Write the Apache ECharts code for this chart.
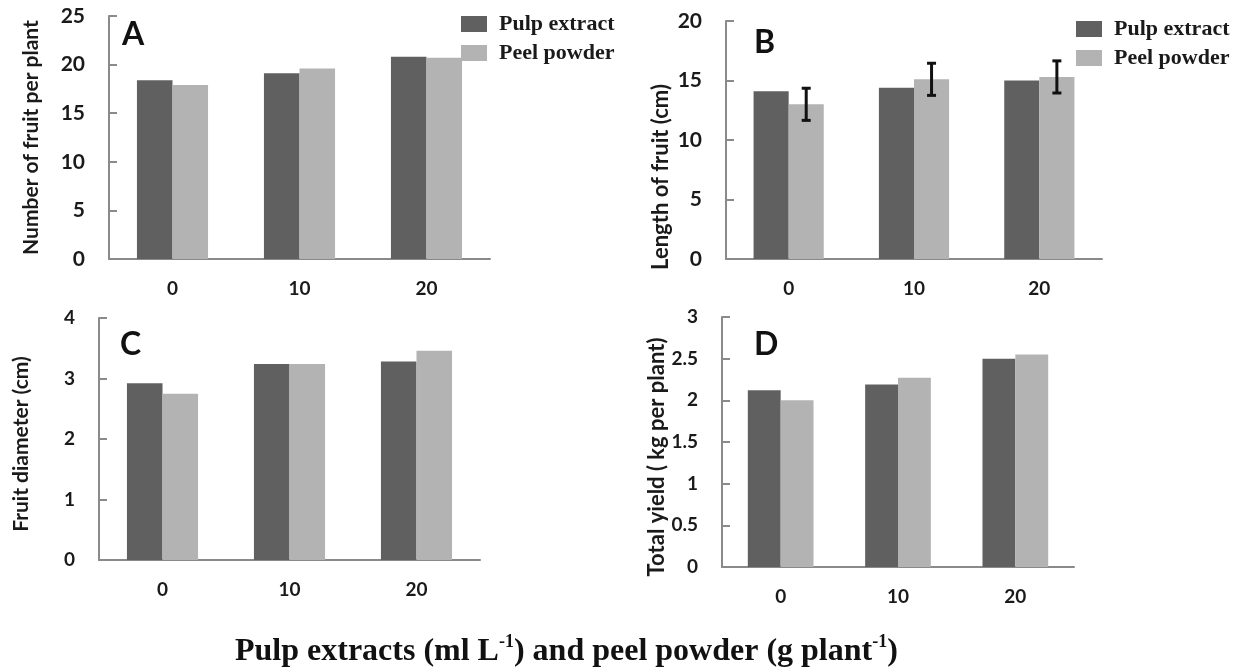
<!DOCTYPE html>
<html>
<head>
<meta charset="utf-8">
<script src="https://cdn.jsdelivr.net/npm/echarts@6/dist/echarts.min.js"></script>
<style>html,body{margin:0;padding:0;background:#fff}#c{width:1238px;height:669px}</style>
</head>
<body>
<div id="c"></div>
<script>
// ---- data ----
const categories = ['0', '10', '20'];
const seriesNames = ['Pulp extract', 'Peel powder'];
const pulpA = [18.4, 19.1, 20.8];
const peelA = [17.9, 19.6, 20.7];
const pulpB = [14.1, 14.4, 15.0];
const peelB = [13.0, 15.1, 15.3];
const errB  = [1.35, 1.35, 1.35];
const pulpC = [2.92, 3.24, 3.28];
const peelC = [2.75, 3.24, 3.46];
const pulpD = [2.12, 2.19, 2.50];
const peelD = [2.00, 2.27, 2.55];
const yNames = ['Number of fruit per plant', 'Length of fruit (cm)', 'Fruit diameter (cm)', 'Total yield ( kg per plant)'];
const yMax = [25, 20, 4, 3];
const yInterval = [5, 5, 1, 0.5];
const panelLetters = ['A', 'B', 'C', 'D'];

// ---- style ----
const DARK = '#606060', LIGHT = '#b3b3b3', AXIS = '#8a8a8a', TXT = '#1a1a1a';
const GAP = '44%';

const grids = [
  {left: 109, top: 16, width: 381, height: 243},
  {left: 726, top: 21, width: 376, height: 238},
  {left: 99, top: 318, width: 381, height: 242},
  {left: 722, top: 317, width: 352, height: 250}
];
const nameGaps = [67, 54, 67, 54];
const nameSizes = [21, 22, 21, 22];
const namePads = [[0, 0, 0, 0], [0, 74, 0, 0], [0, 10, 0, 0], [0, 30, 0, 0]];
const yLabelSize = [21, 21, 19, 19];
const letterPos = [[122, 35], [754, 43], [120, 345], [754, 345]];

const xAxes = grids.map((g, i) => ({
  type: 'category', gridIndex: i, data: categories,
  axisLine: {show: true, lineStyle: {color: AXIS, width: 2}},
  axisTick: {show: false},
  axisLabel: {fontFamily: 'Lato', fontWeight: 'bold', fontSize: 19, color: TXT, margin: 20}
}));
const yAxes = grids.map((g, i) => ({
  type: 'value', gridIndex: i, min: 0, max: yMax[i], interval: yInterval[i],
  name: yNames[i], nameLocation: 'middle', nameGap: nameGaps[i],
  nameTextStyle: {fontFamily: 'Lato', fontWeight: 'bold', fontSize: nameSizes[i], color: TXT, padding: namePads[i]},
  axisLine: {show: true, lineStyle: {color: AXIS, width: 2}},
  axisTick: {show: true, inside: true, length: 8, lineStyle: {color: AXIS, width: 2}},
  splitLine: {show: false},
  axisLabel: {fontFamily: 'Lato', fontWeight: 'bold', fontSize: yLabelSize[i], color: TXT, margin: 24}
}));

const pulpData = [pulpA, pulpB, pulpC, pulpD];
const peelData = [peelA, peelB, peelC, peelD];
const series = [];
for (let i = 0; i < 4; i++) {
  series.push({
    type: 'bar', name: seriesNames[0], xAxisIndex: i, yAxisIndex: i, data: pulpData[i],
    barGap: '0%', barCategoryGap: GAP, itemStyle: {color: DARK}, emphasis: {disabled: true}
  });
  series.push({
    type: 'bar', name: seriesNames[1], xAxisIndex: i, yAxisIndex: i, data: peelData[i],
    barGap: '0%', barCategoryGap: GAP, itemStyle: {color: LIGHT}, emphasis: {disabled: true}
  });
}
// error bars on peel powder in panel B
series.push({
  type: 'custom', name: 'errB', xAxisIndex: 1, yAxisIndex: 1, silent: true, z: 10,
  data: peelB.map((v, k) => [k, v - errB[k], v + errB[k]]),
  renderItem: function (params, api) {
    const c = api.coord([api.value(0), 0]);
    const band = api.size([1, 0])[0];
    const barW = band * (1 - 0.44) / 2;
    const x = c[0] + barW / 2;
    const yLo = api.coord([api.value(0), api.value(1)])[1];
    const yHi = api.coord([api.value(0), api.value(2)])[1];
    const h = 4.5;
    const st = {stroke: '#111', lineWidth: 3};
    return {type: 'group', children: [
      {type: 'line', shape: {x1: x, y1: yLo, x2: x, y2: yHi}, style: st},
      {type: 'line', shape: {x1: x - h, y1: yHi, x2: x + h, y2: yHi}, style: st},
      {type: 'line', shape: {x1: x - h, y1: yLo, x2: x + h, y2: yLo}, style: st}
    ]};
  }
});

const legendBase = {
  orient: 'vertical', data: seriesNames, icon: 'rect', itemWidth: 26, itemHeight: 16, itemGap: 7,
  padding: 0, selectedMode: false,
  textStyle: {fontFamily: 'Liberation Serif', fontWeight: 'bold', fontSize: 22, color: TXT, padding: [0, 0, 0, 7]}
};

const graphics = panelLetters.map((t, i) => ({
  type: 'text', x: letterPos[i][0], y: letterPos[i][1],
  style: {text: t, fontFamily: 'Lato', fontWeight: 'bold', fontSize: 32, fill: '#111', align: 'left', verticalAlign: 'middle'}
}));

const option = {
  animation: false,
  backgroundColor: '#fff',
  title: {
    left: 230, top: 628,
    text: '{a|Pulp extracts (ml L}{s|-1}{a|) and peel powder (g plant}{s|-1}{a|)}',
    textStyle: {
      rich: {
        a: {fontFamily: 'Liberation Serif', fontWeight: 'bold', fontSize: 32, color: '#111', lineHeight: 38},
        s: {fontFamily: 'Liberation Serif', fontWeight: 'bold', fontSize: 18, color: '#111', verticalAlign: 'top', lineHeight: 18}
      }
    }
  },
  legend: [
    Object.assign({}, legendBase, {left: 461, top: 13}),
    Object.assign({}, legendBase, {left: 1076, top: 18})
  ],
  grid: grids,
  xAxis: xAxes,
  yAxis: yAxes,
  series: series,
  graphic: graphics
};

const chart = echarts.init(document.getElementById('c'), null, {renderer: 'canvas'});
chart.setOption(option);
</script>
</body>
</html>
